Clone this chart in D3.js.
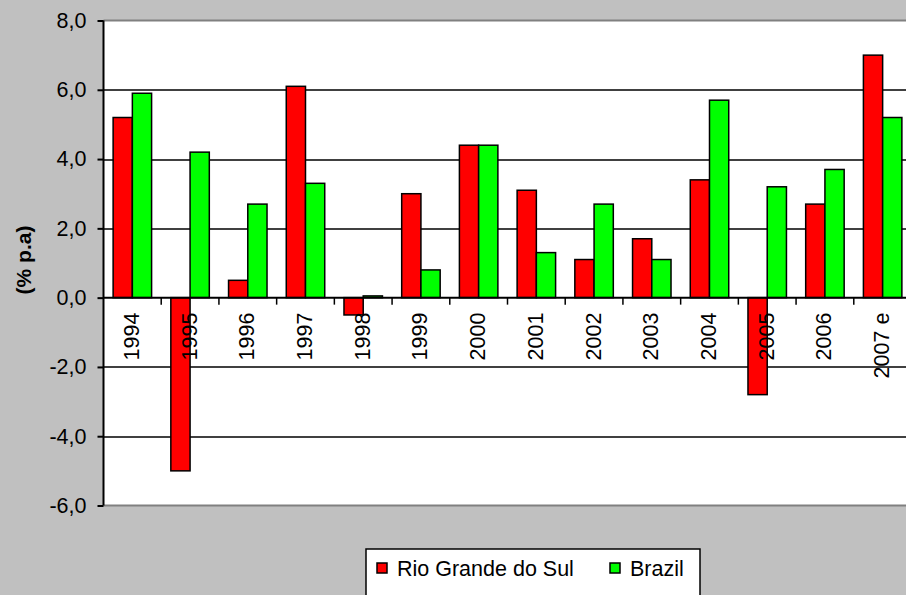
<!DOCTYPE html>
<html>
<head>
<meta charset="utf-8">
<script src="https://cdn.jsdelivr.net/npm/d3@7"></script>
<style>
  body { margin: 0; background: #c0c0c0; }
  svg { display: block; font-family: Arial, "Liberation Sans", sans-serif; }
</style>
</head>
<body>
<script>
var years = ["1994", "1995", "1996", "1997", "1998", "1999", "2000", "2001", "2002", "2003", "2004", "2005", "2006", "2007 e"];
var rioGrande = [5.2, -5.0, 0.5, 6.1, -0.5, 3.0, 4.4, 3.1, 1.1, 1.7, 3.4, -2.8, 2.7, 7.0];
var brazil = [5.9, 4.2, 2.7, 3.3, 0.05, 0.8, 4.4, 1.3, 2.7, 1.1, 5.7, 3.2, 3.7, 5.2];
var seriesNames = ["Rio Grande do Sul", "Brazil"];
var colors = ["#ff0000", "#00ff00"];
var yTicks = [-6, -4, -2, 0, 2, 4, 6, 8];

var width = 906, height = 595;
var margin = { top: 20.5, right: -5.5, bottom: 89.5, left: 103.5 },
    w = width - margin.left - margin.right,
    h = height - margin.top - margin.bottom;

var svg = d3.select("body").append("svg")
    .attr("width", width)
    .attr("height", height);

var g = svg.append("g")
    .attr("transform", "translate(" + margin.left + "," + margin.top + ")");

var x = d3.scaleBand().domain(years).range([0, w]);
var x1 = d3.scaleBand().domain(seriesNames).range([x.bandwidth() / 6, x.bandwidth() * 5 / 6]);
var y = d3.scaleLinear().domain([-6, 8]).range([h, 0]);

// plot area
g.append("rect")
    .attr("width", w).attr("height", h)
    .attr("fill", "#fff");

// gridlines
g.selectAll(".grid")
    .data(yTicks.filter(function (d) { return d !== -6 && d !== 8 && d !== 0; }))
    .enter().append("line")
    .attr("x1", 0).attr("x2", w)
    .attr("y1", function (d) { return Math.round(y(d)) + 0.5; })
    .attr("y2", function (d) { return Math.round(y(d)) + 0.5; })
    .attr("stroke", "#000").attr("stroke-width", 1.5);

// top and bottom borders
[8, -6].forEach(function (v) {
    g.append("line")
        .attr("x1", 0).attr("x2", w)
        .attr("y1", y(v)).attr("y2", y(v))
        .attr("stroke", "#808080").attr("stroke-width", 2);
});

var data = years.map(function (yr, i) {
    return { year: yr, values: [rioGrande[i], brazil[i]] };
});

var groups = g.selectAll(".grp")
    .data(data)
    .enter().append("g")
    .attr("transform", function (d) { return "translate(" + x(d.year) + ",0)"; });

groups.selectAll("rect")
    .data(function (d) { return d.values.map(function (v, j) { return { name: seriesNames[j], value: v, j: j }; }); })
    .enter().append("rect")
    .attr("x", function (d) { return x1(d.name); })
    .attr("width", x1.bandwidth())
    .attr("y", function (d) { return y(Math.max(0, d.value)); })
    .attr("height", function (d) { return Math.abs(y(d.value) - y(0)); })
    .attr("fill", function (d) { return colors[d.j]; })
    .attr("stroke", "#000").attr("stroke-width", 1.5);

// zero axis
g.append("line")
    .attr("x1", 0).attr("x2", w)
    .attr("y1", y(0)).attr("y2", y(0))
    .attr("stroke", "#000").attr("stroke-width", 2);

// category ticks
g.selectAll(".xtick")
    .data(years.slice(1))
    .enter().append("line")
    .attr("x1", function (d) { return x(d); })
    .attr("x2", function (d) { return x(d); })
    .attr("y1", y(0)).attr("y2", y(0) + 7)
    .attr("stroke", "#000").attr("stroke-width", 1.5);

// category labels
g.selectAll(".xlab")
    .data(years)
    .enter().append("text")
    .attr("transform", function (d) {
        return "translate(" + (x(d) + x.bandwidth() / 2 - 1) + "," + (y(0) + 15) + ") rotate(-90)";
    })
    .attr("dy", "0.35em")
    .attr("text-anchor", "end")
    .attr("font-size", 21.5)
    .attr("fill", "#000")
    .text(function (d) { return d; });

// y axis
var yAxis = g.append("g")
    .call(d3.axisLeft(y).tickValues(yTicks).tickSize(6).tickPadding(11)
        .tickFormat(function (d) { return d3.format(".1f")(d).replace(".", ",").replace("−", "-"); }));
yAxis.select(".domain").attr("stroke", "#000").attr("stroke-width", 2).attr("d", "M0," + y(8) + "V" + y(-6));
yAxis.selectAll(".tick line").attr("stroke", "#000").attr("stroke-width", 2);
yAxis.selectAll("text").attr("font-size", 21.5).attr("fill", "#000")
    .attr("font-family", "Arial, 'Liberation Sans', sans-serif");

// y label
svg.append("text")
    .attr("transform", "translate(24,260) rotate(-90)")
    .attr("dy", "0.35em")
    .attr("text-anchor", "middle")
    .attr("font-size", 21)
    .attr("font-weight", "bold")
    .text("(% p.a)");

// legend
var legend = svg.append("g").attr("transform", "translate(366,549)");
legend.append("rect")
    .attr("width", 334).attr("height", 60)
    .attr("fill", "#fff").attr("stroke", "#000").attr("stroke-width", 1.5);
var legX = [11, 244];
seriesNames.forEach(function (name, i) {
    legend.append("rect")
        .attr("x", legX[i]).attr("y", 14)
        .attr("width", 10).attr("height", 10)
        .attr("fill", colors[i]).attr("stroke", "#000").attr("stroke-width", 1.5);
    legend.append("text")
        .attr("x", legX[i] + 20).attr("y", 19)
        .attr("dy", "0.35em")
        .attr("font-size", 21.5)
        .text(name);
});
</script>
</body>
</html>
